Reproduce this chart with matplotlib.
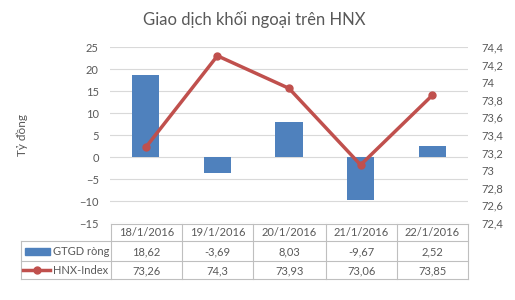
import matplotlib.pyplot as plt
from matplotlib.ticker import FuncFormatter, MultipleLocator

dates = ["18/1/2016", "19/1/2016", "20/1/2016", "21/1/2016", "22/1/2016"]
gtgd = [18.62, -3.69, 8.03, -9.67, 2.52]
hnx = [73.26, 74.3, 73.93, 73.06, 73.85]
bar_name = "GTGD ròng"
line_name = "HNX-Index"

BLUE = "#4F81BD"
RED = "#C0504D"
GRID = "#D9D9D9"
TXT = "#595959"
plt.rcParams['font.family'] = ['Lato', 'DejaVu Sans']

W, H = 515, 300
fig = plt.figure(figsize=(W / 100, H / 100), dpi=100)

def fx(px):
    return px / W

def fy(py):
    return 1 - py / H

# main plot area
x0, x1, ytop, ybot = 110, 468, 47, 223
ax = fig.add_axes([fx(x0), fy(ybot), fx(x1 - x0), (ybot - ytop) / H])
xs = list(range(len(dates)))
ax.bar(xs, gtgd, width=0.38, color=BLUE, zorder=2)
ax.set_xlim(-0.5, len(dates) - 0.5)
ax.set_ylim(-15, 25)
ax.yaxis.set_major_locator(MultipleLocator(5))
ax.grid(axis='y', color=GRID, lw=0.8, zorder=0)
ax.set_xticks([])
for s in ax.spines.values():
    s.set_visible(False)
ax.tick_params(axis='y', length=0, labelsize=8, labelcolor=TXT, pad=8)
ax.set_ylabel("Tỷ đồng", fontsize=8.5, color=TXT, labelpad=0)
ax.yaxis.set_label_coords(-(110 - 28) / (x1 - x0), 0.5)

ax2 = ax.twinx()
ax2.plot(xs, hnx, color=RED, lw=2.5, marker='o', ms=5, zorder=3)
ax2.set_ylim(72.4, 74.4)
ax2.yaxis.set_major_locator(MultipleLocator(0.2))
ax2.yaxis.set_major_formatter(FuncFormatter(lambda v, p: ("%g" % round(v, 1)).replace('.', ',')))
for s in ax2.spines.values():
    s.set_visible(False)
ax2.tick_params(axis='y', length=0, labelsize=8, labelcolor=TXT, pad=10)

fig.text(fx(254), fy(20), "Giao dịch khối ngoại trên HNX", ha='center', va='center',
         fontsize=12, color=TXT)

# data table
tax = fig.add_axes([0, 0, 1, 1])
tax.set_xlim(0, W)
tax.set_ylim(H, 0)
tax.axis('off')
BORDER = "#BFBFBF"
cols = [111, 182, 253, 326, 397, 468]
rows = [224, 241, 261, 279]
lx = 21
tax.plot([cols[0], cols[-1]], [rows[0], rows[0]], color=BORDER, lw=0.8)
for r in rows[1:]:
    tax.plot([lx, cols[-1]], [r, r], color=BORDER, lw=0.8)
for c in cols:
    tax.plot([c, c], [rows[0], rows[-1]], color=BORDER, lw=0.8)
tax.plot([lx, lx], [rows[1], rows[-1]], color=BORDER, lw=0.8)

fmt = lambda v: ("%g" % v).replace('.', ',')
for i, d in enumerate(dates):
    cx = (cols[i] + cols[i + 1]) / 2
    tax.text(cx, (rows[0] + rows[1]) / 2 + 0.5, d, ha='center', va='center', fontsize=8, color=TXT)
    tax.text(cx, (rows[1] + rows[2]) / 2 + 0.5, fmt(gtgd[i]), ha='center', va='center', fontsize=8, color=TXT)
    tax.text(cx, (rows[2] + rows[3]) / 2 + 0.5, fmt(hnx[i]), ha='center', va='center', fontsize=8, color=TXT)

r1 = (rows[1] + rows[2]) / 2
r2 = (rows[2] + rows[3]) / 2
tax.add_patch(plt.Rectangle((25, r1 - 3.5), 25, 7, color=BLUE))
tax.plot([23, 50], [r2, r2], color=RED, lw=2.5)
tax.plot([37], [r2], marker='o', ms=5, color=RED)
tax.text(53, r1 + 0.5, bar_name, ha='left', va='center', fontsize=8, color=TXT)
tax.text(53, r2 + 0.5, line_name, ha='left', va='center', fontsize=8, color=TXT)

fig.savefig("out.png", dpi=100)
